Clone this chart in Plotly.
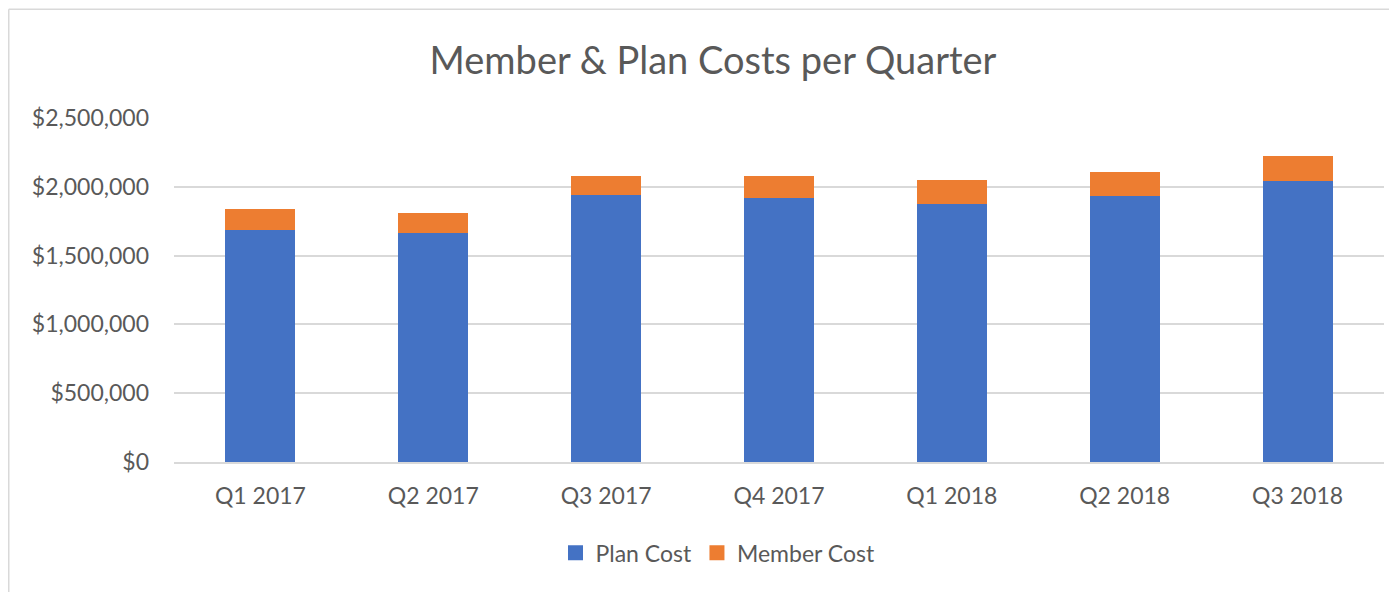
import plotly.graph_objects as go

quarters = ["Q1 2017", "Q2 2017", "Q3 2017", "Q4 2017", "Q1 2018", "Q2 2018", "Q3 2018"]
plan_cost = [1684000, 1667000, 1938000, 1921000, 1873000, 1936000, 2045000]
member_cost = [158000, 143000, 140000, 157000, 174000, 174000, 177000]
y_ticks = [0, 500000, 1000000, 1500000, 2000000, 2500000]
y_tick_labels = ["$0", "$500,000", "$1,000,000", "$1,500,000", "$2,000,000", "$2,500,000"]

FONT = "Lato"
TXT = "#595959"
BLUE = "#4472C4"
ORANGE = "#ED7D31"

fig = go.Figure()
fig.add_trace(go.Bar(x=quarters, y=plan_cost, name="Plan Cost", showlegend=False,
                     marker=dict(color=BLUE, line=dict(width=0))))
fig.add_trace(go.Bar(x=quarters, y=member_cost, name="Member Cost", showlegend=False,
                     marker=dict(color=ORANGE, line=dict(width=0))))
# legend entries with larger square swatches
fig.add_trace(go.Scatter(x=[None], y=[None], mode="markers", name="Plan Cost",
                         marker=dict(symbol="square", size=15, color=BLUE)))
fig.add_trace(go.Scatter(x=[None], y=[None], mode="markers", name="Member Cost",
                         marker=dict(symbol="square", size=15, color=ORANGE)))

# page has an 8px body margin; work in figure coordinates = page - 8
OFF = 8
W, H = 1397 - OFF, 592 - OFF
plot_left, plot_right, plot_top, plot_bottom = 174 - OFF, 1384 - OFF, 117.7 - OFF, 462 - OFF
L, R, T, B = plot_left, W - plot_right, plot_top, H - plot_bottom
pw, ph = plot_right - plot_left, plot_bottom - plot_top

fig.update_layout(
    width=W, height=H,
    barmode="stack",
    bargap=0.595,
    paper_bgcolor="white",
    plot_bgcolor="white",
    margin=dict(l=L, r=R, t=T, b=B),
    font=dict(family=FONT, color=TXT, size=23),
    title=dict(text="Member & Plan Costs per Quarter", x=(713 - OFF) / W, xanchor="center",
               y=1 - (61 - OFF) / H, yanchor="middle", xref="container", yref="container",
               font=dict(family=FONT, size=38, color=TXT)),
    legend=dict(orientation="h", x=(718 - OFF - L) / pw, xanchor="center",
                y=(plot_bottom - (553 - OFF)) / ph, yanchor="middle",
                font=dict(family=FONT, size=23, color=TXT),
                traceorder="normal", itemwidth=30),
    showlegend=True,
)
fig.update_xaxes(showgrid=False, showline=True, linecolor="#D9D9D9", linewidth=1.5,
                 ticks="", ticklabelstandoff=13, tickfont=dict(size=23, color=TXT, family=FONT))
fig.update_yaxes(range=[0, 2500000], tickvals=y_ticks, ticktext=y_tick_labels,
                 showgrid=True, gridcolor="#D9D9D9", gridwidth=1.5, zeroline=False,
                 showline=False, ticks="", ticklabelstandoff=24,
                 tickfont=dict(size=23, color=TXT, family=FONT))

# chart-area border (top and left edges)
fig.add_shape(type="line", xref="paper", yref="paper",
              x0=(0.75 - L) / pw, x1=(W + 5 - L) / pw,
              y0=(plot_bottom - 0.75) / ph, y1=(plot_bottom - 0.75) / ph,
              line=dict(color="#D9D9D9", width=1.5))
fig.add_shape(type="line", xref="paper", yref="paper",
              x0=(0.75 - L) / pw, x1=(0.75 - L) / pw,
              y0=(plot_bottom - 0.75) / ph, y1=(plot_bottom - H - 10) / ph,
              line=dict(color="#D9D9D9", width=1.5))

fig.write_html("out.html")
